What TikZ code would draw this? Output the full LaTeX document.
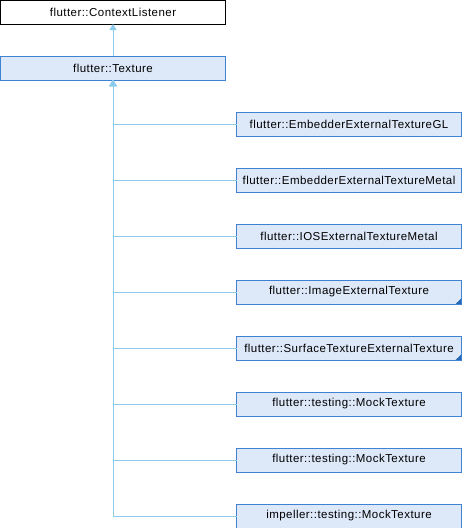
\documentclass[tikz,border=0pt]{standalone}
\usepackage{fontspec}
\usepackage{xcolor}
\usepackage{tikz}
\usetikzlibrary{arrows.meta, positioning}
\newfontfamily\doxfont{Liberation Sans}[LetterSpace=4]
\definecolor{TexEdge}{HTML}{8DCBEC}
\definecolor{TexBorder}{HTML}{3F82D4}
\definecolor{TexFill}{HTML}{DDE8F8}
\definecolor{TexCorner}{HTML}{2A66B8}

\begin{document}
\begin{tikzpicture}[
    x=1pt, y=-1pt,
    cls/.style={
      rectangle, draw=TexBorder, fill=TexFill, line width=1pt,
      minimum width=225pt, minimum height=24pt, inner sep=0pt, outer sep=0pt,
      align=center, font=\doxfont\fontsize{11.5}{13}\selectfont
    },
    ext/.style={cls, draw=black, fill=white},
    more/.style={path picture={
        \fill[TexCorner] (path picture bounding box.south east) -- ++(-6pt,0pt)
          -- ++(6pt,6pt) -- cycle;}},
    inh/.style={{Triangle[length=6pt, width=7pt, fill=TexEdge]}-, draw=TexEdge, line width=0.8pt}
  ]
    \useasboundingbox (0,0) rectangle (462,528);

    \node[ext] (listener) at (113,12) {flutter::ContextListener};
    \node[cls, below=32pt of listener] (texture) {flutter::Texture};

    \node[cls] (gl) at (349,124) {flutter::EmbedderExternalTextureGL};
    \node[cls, below=32pt of gl] (metal) {flutter::EmbedderExternalTextureMetal};
    \node[cls, below=32pt of metal] (ios) {flutter::IOSExternalTextureMetal};
    \node[cls, more, below=32pt of ios] (image) {flutter::ImageExternalTexture};
    \node[cls, more, below=32pt of image] (surface) {flutter::SurfaceTextureExternalTexture};
    \node[cls, below=32pt of surface] (mocka) {flutter::testing::MockTexture};
    \node[cls, below=32pt of mocka] (mockb) {flutter::testing::MockTexture};
    \node[cls, below=32pt of mockb] (mockc) {impeller::testing::MockTexture};

    \draw[inh] (listener) -- (texture);
    \foreach \sub in {gl, metal, ios, image, surface, mocka, mockb, mockc}
      \draw[inh] (texture.south) |- (\sub.west);
  \end{tikzpicture}
\end{document}
